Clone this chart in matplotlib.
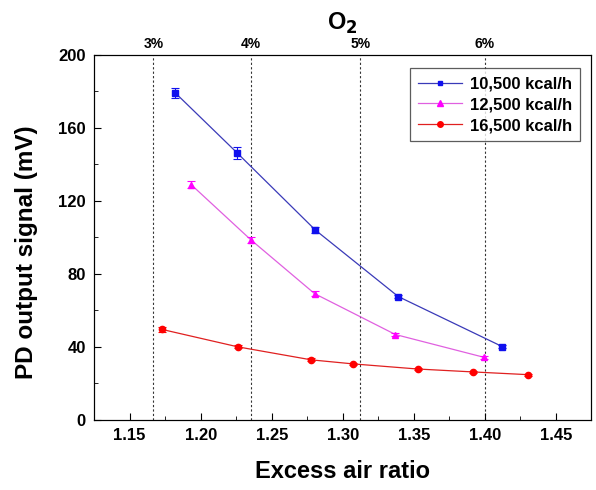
import numpy as np
import matplotlib.pyplot as plt
from matplotlib.lines import Line2D

plt.rcParams['font.family'] = ['Liberation Sans', 'DejaVu Sans']
plt.rcParams['font.weight'] = 'bold'
plt.rcParams['mathtext.default'] = 'bf'

# excess air ratio / PD output signal (mV)
x_10500 = [1.1821, 1.2258, 1.2808, 1.3391, 1.4123]
y_10500 = [179.2, 146.2, 104.0, 67.6, 40.2]
e_10500 = [2.6, 3.2, 1.6, 1.0, 0.8]

x_12500 = [1.1933, 1.2353, 1.2802, 1.3371, 1.3995]
y_12500 = [128.9, 98.7, 69.2, 46.8, 34.3]
e_12500 = [1.8, 1.6, 1.2, 1.0, 0.8]

x_16500 = [1.1727, 1.2264, 1.2780, 1.3073, 1.3527, 1.3917, 1.4306]
y_16500 = [49.6, 40.0, 32.9, 30.7, 27.9, 26.3, 24.8]
e_16500 = [1.2, 0.8, 0.8, 0.6, 0.6, 0.6, 0.6]

x_ticks = [1.15, 1.20, 1.25, 1.30, 1.35, 1.40, 1.45]
y_ticks = [0, 40, 80, 120, 160, 200]
o2_pct = [3, 4, 5, 6]
o2_labels = ['3%', '4%', '5%', '6%']

series = [
    (x_10500, y_10500, e_10500, '#1010ee', '#3a3ab8', 's', 4, '10,500 kcal/h'),
    (x_12500, y_12500, e_12500, '#ff00ff', '#e060e0', '^', 5, '12,500 kcal/h'),
    (x_16500, y_16500, e_16500, '#ff0000', '#e02020', 'o', 4.5, '16,500 kcal/h'),
]

fig = plt.figure(figsize=(5.96, 4.9), dpi=100)
ax = fig.add_axes([0.158, 0.143, 0.834, 0.745])

handles = []
for xs, ys, es, mc, lc, m, ms, lab in series:
    ax.plot(xs, ys, color=lc, lw=0.9, zorder=2)
    ax.errorbar(xs, ys, yerr=es, fmt=m, color=mc, ms=ms, capsize=3,
                elinewidth=0.8, capthick=0.8, zorder=3)
    handles.append(Line2D([], [], color=lc, lw=0.9, marker=m, ms=ms - 0.5,
                          mfc=mc, mec=mc, label=lab))

# O2 lines: lambda = 21 / (21 - O2)
lam = [21 / (21 - p) for p in o2_pct]
for v in lam:
    ax.axvline(v, color='#333333', ls=(0, (2, 2)), lw=0.8, zorder=0)

ax.set_xlim(1.125, 1.475)
ax.set_ylim(0, 200)
ax.set_xticks(x_ticks)
ax.set_xticklabels(['%.2f' % v for v in x_ticks], fontsize=12, fontweight='bold')
ax.set_yticks(y_ticks)
ax.set_yticklabels([str(v) for v in y_ticks], fontsize=12, fontweight='bold')
ax.set_xticks(np.array(x_ticks[:-1]) + 0.025, minor=True)
ax.set_yticks(np.array(y_ticks[:-1]) + 20, minor=True)
ax.tick_params(which='both', direction='in', top=False, right=False)
ax.tick_params(which='major', length=5, pad=6)
ax.tick_params(which='minor', length=3)

ax.set_xlabel('Excess air ratio', fontsize=17, fontweight='bold', labelpad=12)
ax.set_ylabel('PD output signal (mV)', fontsize=17.5, fontweight='bold')
ax.yaxis.set_label_coords(-0.114, 0.46)

top = ax.twiny()
top.set_xlim(ax.get_xlim())
top.set_xticks(lam)
top.set_xticklabels(o2_labels, fontsize=10, fontweight='bold')
top.tick_params(length=0, pad=3)
top.set_xlabel('O$_2$', fontsize=17, fontweight='bold', labelpad=5)

leg = ax.legend(handles=handles, loc='upper right', bbox_to_anchor=(0.978, 0.964),
                borderaxespad=0, fontsize=12, frameon=True, fancybox=False,
                edgecolor='#333333', handlelength=2.6, borderpad=0.5,
                labelspacing=0.35, handletextpad=0.5)
leg.get_frame().set_linewidth(0.9)
for t in leg.get_texts():
    t.set_fontweight('bold')

fig.savefig('out.png', dpi=100)
